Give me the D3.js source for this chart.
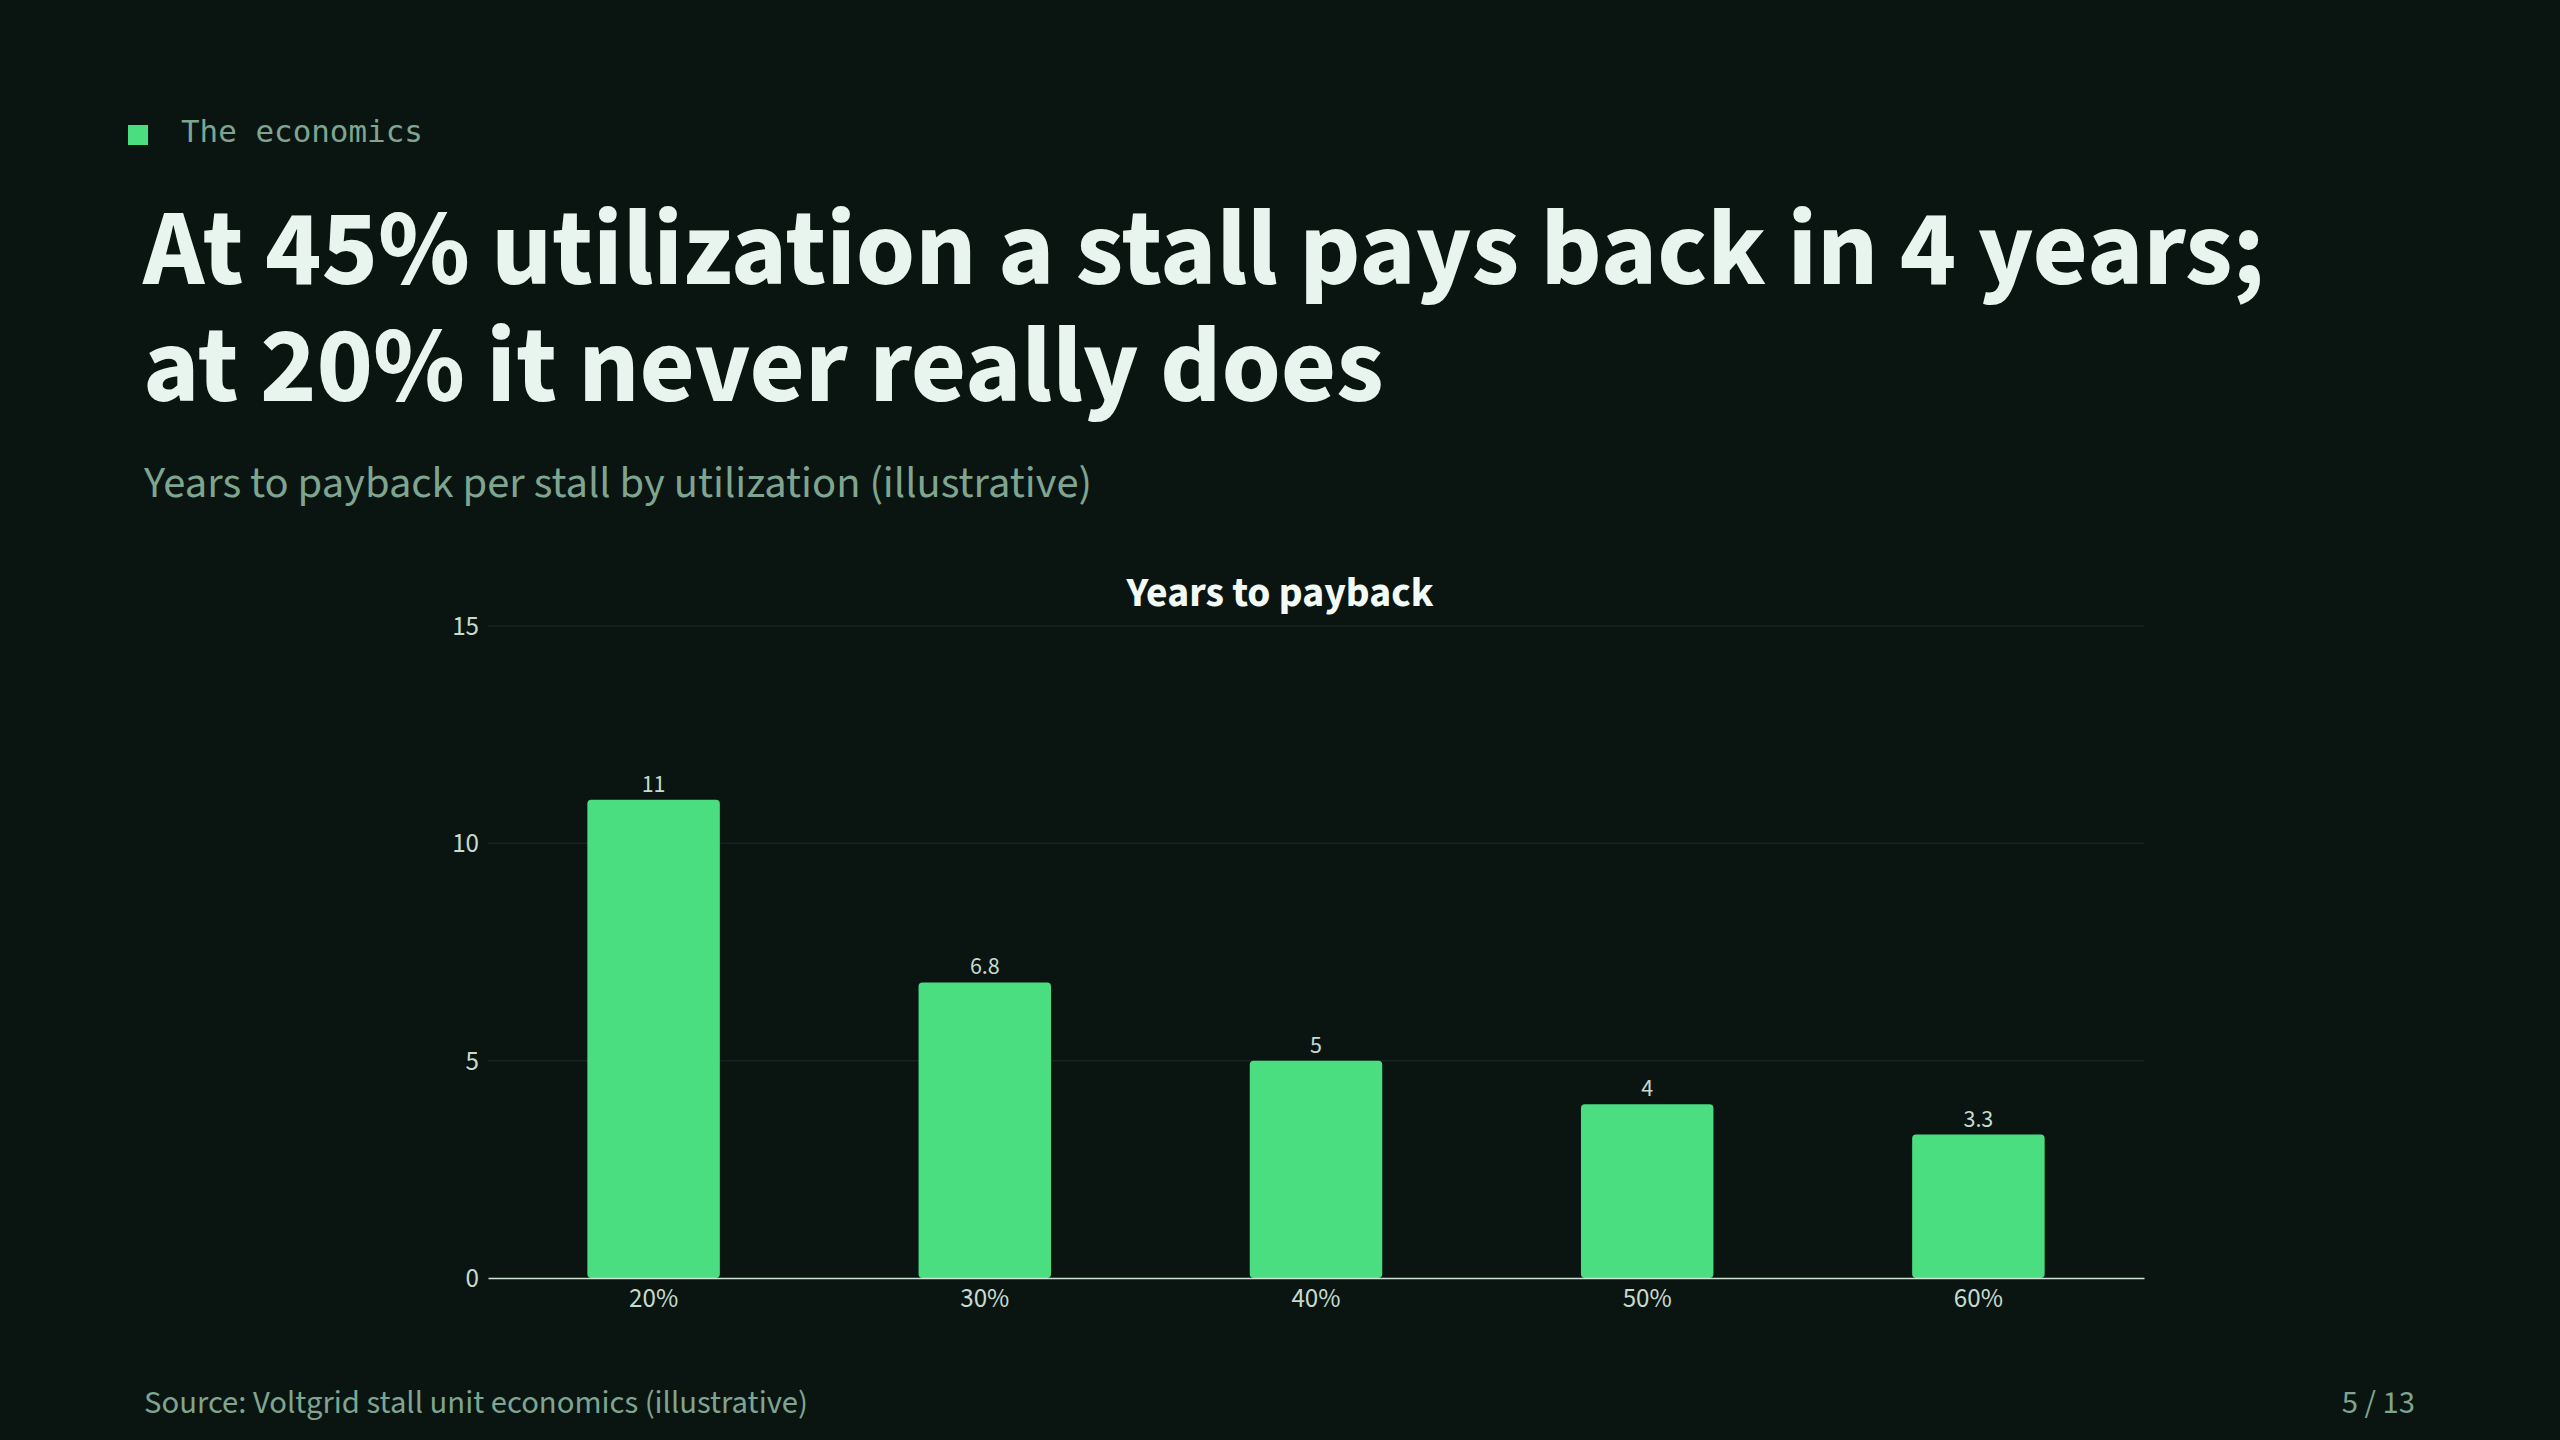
<!DOCTYPE html>
<html><head><meta charset="utf-8">
<script src="https://cdn.jsdelivr.net/npm/d3@7"></script>
<style>html,body{margin:0;background:#0a1512;overflow:hidden} svg{display:block}</style>
</head><body><svg id="c" width="2560" height="1440"></svg>
<script>
// ---- data ----
const categories = ["20%", "30%", "40%", "50%", "60%"];
const paybackYears = [11, 6.8, 5, 4, 3.3];
const valueLabels = ["11", "6.8", "5", "4", "3.3"];
const yTicks = [0, 5, 10, 15];
const yDomain = [0, 15];
const kicker = "The economics";
const titleLines = ["At 45% utilization a stall pays back in 4 years;", "at 20% it never really does"];
const subtitle = "Years to payback per stall by utilization (illustrative)";
const chartTitle = "Years to payback";
const sourceText = "Source: Voltgrid stall unit economics (illustrative)";
const pageLabel = "5 / 13";

// ---- style ----
const BG = "#0a1512", GREEN = "#4ade80", TITLE = "#e8f5ee", MUTED = "#7fa590",
      TICK = "#c6dacd", AXIS = "#cfe3d6", GRID = "#14251f";
const SANS = "'Source Sans 3','Source Sans Pro',Lato,'Noto Sans',sans-serif";
const MONO = "'DejaVu Sans Mono','Liberation Mono',monospace";

const svg = d3.select("#c");
svg.append("rect").attr("width", 2560).attr("height", 1440).attr("fill", BG);

function fit(sel, target) {
  const w = sel.node().getComputedTextLength();
  const fs = parseFloat(sel.attr("font-size"));
  sel.attr("font-size", (fs * target / w).toFixed(2));
  return fs * target / w;
}

// kicker
svg.append("rect").attr("x", 128).attr("y", 125).attr("width", 20).attr("height", 20).attr("fill", GREEN);
const k = svg.append("text").attr("x", 181).attr("y", 142).attr("font-family", MONO)
  .attr("font-size", 31).attr("fill", MUTED).text(kicker);
fit(k, 242);

// title
const t1 = svg.append("text").attr("x", 143).attr("y", 284).attr("font-family", SANS)
  .attr("font-weight", 700).attr("font-size", 104).attr("fill", TITLE).text(titleLines[0]);
const tfs = fit(t1, 2122);
svg.append("text").attr("x", 143).attr("y", 401).attr("font-family", SANS)
  .attr("font-weight", 700).attr("font-size", tfs.toFixed(2)).attr("fill", TITLE).text(titleLines[1]);

// subtitle
const st = svg.append("text").attr("x", 144).attr("y", 497).attr("font-family", SANS)
  .attr("font-size", 40).attr("fill", MUTED).text(subtitle);
fit(st, 948);

// chart
const plot = {left: 488, right: 2144, top: 626, bottom: 1278};
const x = d3.scaleBand().domain(categories).range([plot.left, plot.right])
  .paddingInner(0.6).paddingOuter(0.3);
const y = d3.scaleLinear().domain(yDomain).range([plot.bottom, plot.top]);

const ct = svg.append("text").attr("x", 1280).attr("y", 606).attr("text-anchor", "middle")
  .attr("font-family", SANS).attr("font-weight", 700).attr("font-size", 38)
  .attr("fill", "#f2faf5").text(chartTitle);
fit(ct, 307);

// grid
svg.append("g").selectAll("line").data(yTicks.filter(d => d > 0)).join("line")
  .attr("x1", plot.left).attr("x2", plot.right)
  .attr("y1", d => y(d)).attr("y2", d => y(d))
  .attr("stroke", GRID).attr("stroke-width", 1.5);

// y axis
const yAxis = svg.append("g").attr("transform", `translate(${plot.left},0)`)
  .call(d3.axisLeft(y).tickValues(yTicks).tickSize(0).tickPadding(9).tickFormat(d3.format("d")));
yAxis.select(".domain").remove();
yAxis.selectAll("text").attr("font-family", SANS).attr("font-size", 27).attr("fill", TICK);

// bars
svg.append("g").selectAll("rect").data(paybackYears).join("rect")
  .attr("x", (d, i) => x(categories[i])).attr("width", x.bandwidth())
  .attr("y", d => y(d)).attr("height", d => y(0) - y(d))
  .attr("rx", 4).attr("fill", GREEN);

// value labels
svg.append("g").selectAll("text").data(paybackYears).join("text")
  .attr("x", (d, i) => x(categories[i]) + x.bandwidth() / 2)
  .attr("y", d => y(d) - 8).attr("text-anchor", "middle")
  .attr("font-family", SANS).attr("font-size", 24).attr("fill", TICK)
  .text((d, i) => valueLabels[i]);

// x axis
const xAxis = svg.append("g").attr("transform", `translate(0,${plot.bottom})`)
  .call(d3.axisBottom(x).tickSize(0).tickPadding(10));
xAxis.select(".domain").attr("stroke", AXIS).attr("stroke-width", 1.6);
xAxis.selectAll("text").attr("font-family", SANS).attr("font-size", 27).attr("fill", TICK);

// footer
const src = svg.append("text").attr("x", 144).attr("y", 1413).attr("font-family", SANS)
  .attr("font-size", 30).attr("fill", MUTED).text(sourceText);
fit(src, 664);
svg.append("text").attr("x", 2415).attr("y", 1413).attr("text-anchor", "end")
  .attr("font-family", SANS).attr("font-size", src.attr("font-size")).attr("fill", MUTED).text(pageLabel);
</script></body></html>
